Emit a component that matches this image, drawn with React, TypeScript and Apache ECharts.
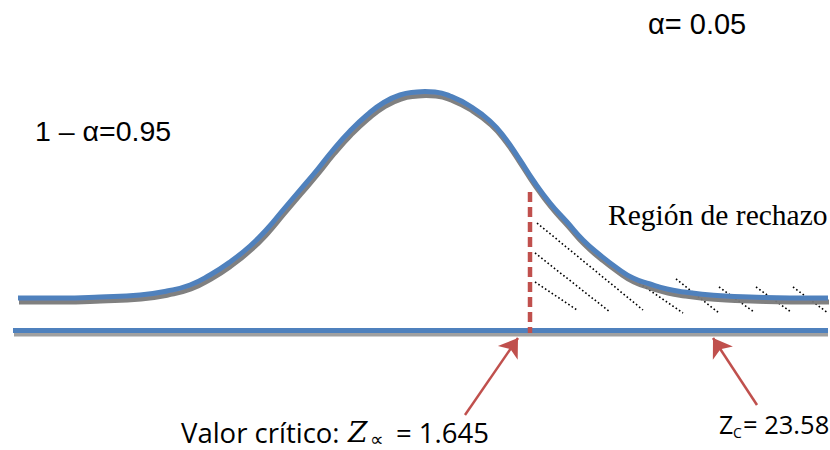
import React, { useEffect, useRef } from "react";
import * as echarts from "echarts";

const curveX = [18, 60, 100, 140, 167, 190, 210, 230, 250, 267, 283, 300, 317, 333, 350, 367, 383, 400, 417, 425, 435, 450, 470, 490, 505, 520, 533, 550, 567, 583, 600, 617, 633, 650, 667, 684, 700, 725, 750, 790, 828];
const curveY = [298, 298, 297, 295, 291, 285, 275, 262, 246, 229, 210, 190, 170, 150, 131, 115, 103, 95, 92, 91.5, 92, 96, 106, 121, 138, 160, 180, 203, 222, 240, 255, 268, 278, 284, 289, 292, 294, 296, 297, 298, 298];

// Horizontal axis line and its grey shadow
const baseLine = [[13, 330.5], [828, 330.5]];
const baseShadow = [[14, 334.5], [828, 334.5]];
// Critical value marker
const criticalLine = [[530, 192], [530, 333]];
// Hatch segments in the rejection region
const hatchSegments = [
  [[537, 223], [643, 310]],
  [[535, 253], [610, 312]],
  [[535, 282], [577, 310]],
  [[636, 281], [683, 313]],
  [[676, 279], [719, 313]],
  [[719, 287], [754, 312]],
  [[756, 287], [791, 312]],
  [[793, 287], [828, 313]],
];
// Arrows (tail -> head)
const arrows = [
  [[465, 415], [518, 338]],
  [[757, 405], [713, 338]],
];

const BLUE = "#4f81bd";
const RED = "#c0504d";
const GREY = "#a0a0a0";
const shadow = { shadowColor: "rgba(120,120,120,0.95)", shadowOffsetX: 1, shadowOffsetY: 4, shadowBlur: 0.5 };

export default function App() {
  const ref = useRef<HTMLDivElement>(null);
  useEffect(() => {
    if (!ref.current) return;
    const chart = echarts.init(ref.current, null, { renderer: "svg" });
    const curveData = curveX.map((x, i) => [x, curveY[i]]);
    const series: any[] = [];
    hatchSegments.forEach((seg) => {
      series.push({
        type: "line",
        data: seg,
        showSymbol: false,
        silent: true,
        z: 1,
        lineStyle: { color: "#000", width: 1.6, type: [1.6, 2.4] },
      });
    });
    series.push({
      type: "line",
      data: baseShadow,
      showSymbol: false,
      silent: true,
      z: 2,
      lineStyle: { color: GREY, width: 4 },
    });
    series.push({
      type: "line",
      data: baseLine,
      showSymbol: false,
      silent: true,
      z: 2,
      lineStyle: { color: BLUE, width: 5 },
    });
    series.push({
      type: "lines",
      coordinateSystem: "cartesian2d",
      silent: true,
      z: 3,
      symbol: ["none", "arrow"],
      symbolSize: 18,
      lineStyle: { color: RED, width: 2.5, curveness: 0, opacity: 1 },
      itemStyle: { color: RED },
      data: arrows.map((a) => ({ coords: a })),
    });
    series.push({
      type: "line",
      data: criticalLine,
      showSymbol: false,
      silent: true,
      z: 3,
      lineStyle: { color: RED, width: 4.5, type: [10, 5] },
    });
    series.push({
      type: "line",
      data: curveData,
      smooth: 0.5,
      showSymbol: false,
      silent: true,
      z: 4,
      lineStyle: { color: BLUE, width: 5, ...shadow },
    });

    const sans = '"Open Sans", sans-serif';
    chart.setOption({
      animation: false,
      grid: { left: 0, right: 0, top: 0, bottom: 0, containLabel: false },
      xAxis: { type: "value", min: 0, max: 830, show: false },
      yAxis: { type: "value", min: 0, max: 450, inverse: true, show: false },
      series,
      graphic: [
        {
          type: "text",
          x: 35,
          y: 130.5,
          style: { text: "1 – α=0.95", font: '28.5px "Liberation Sans", Arial, sans-serif', fill: "#000", verticalAlign: "middle", align: "left" },
        },
        {
          type: "text",
          x: 648,
          y: 24,
          style: { text: "α= 0.05", font: '29px "Liberation Sans", Arial, sans-serif', fill: "#000", verticalAlign: "middle", align: "left" },
        },
        {
          type: "text",
          x: 608,
          y: 215,
          style: { text: "Región de rechazo", font: '29.5px "Liberation Serif", "Times New Roman", serif', fill: "#000", verticalAlign: "middle", align: "left" },
        },
        {
          type: "text",
          x: 181,
          y: 432,
          style: { text: "Valor crítico:", font: `27.5px ${sans}`, fill: "#000", verticalAlign: "middle", align: "left" },
        },
        {
          type: "text",
          x: 348,
          y: 432,
          style: { text: "Z", font: 'italic 28px "DejaVu Serif", serif', fill: "#000", verticalAlign: "middle", align: "left" },
        },
        {
          type: "text",
          x: 370,
          y: 439,
          style: { text: "∝", font: '19px "DejaVu Sans", sans-serif', fill: "#000", verticalAlign: "middle", align: "left" },
        },
        {
          type: "text",
          x: 396,
          y: 432,
          style: { text: "= 1.645", font: `27.5px ${sans}`, fill: "#000", verticalAlign: "middle", align: "left" },
        },
        {
          type: "text",
          x: 719,
          y: 424,
          style: { text: "Z", font: `25px ${sans}`, fill: "#000", verticalAlign: "middle", align: "left" },
        },
        {
          type: "text",
          x: 733,
          y: 432,
          style: { text: "C", font: `14px ${sans}`, fill: "#000", verticalAlign: "middle", align: "left" },
        },
        {
          type: "text",
          x: 743,
          y: 424,
          style: { text: "= 23.58", font: `25.5px ${sans}`, fill: "#000", verticalAlign: "middle", align: "left" },
        },
      ],
    });
    return () => chart.dispose();
  }, []);
  return (
    <div
      ref={ref}
      style={{ position: "fixed", left: 0, top: 0, width: 830, height: 450, background: "#fff" }}
    />
  );
}
